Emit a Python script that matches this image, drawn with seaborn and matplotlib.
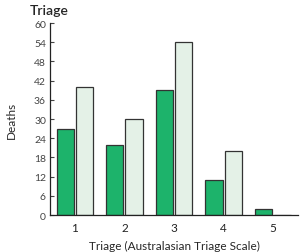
import pandas as pd
import numpy as np
import seaborn as sns
import matplotlib.pyplot as plt
from matplotlib.ticker import FixedLocator

# Data
triage = ['1', '2', '3', '4', '5']
deaths_a = [27, 22, 39, 11, 2]
deaths_b = [40, 30, 54, 20, 0]

df = pd.DataFrame({
    'triage': triage * 2,
    'deaths': deaths_a + deaths_b,
    'group': ['A'] * len(triage) + ['B'] * len(triage),
})

sns.set_style('white')
plt.rcParams['font.family'] = ['Lato', 'DejaVu Sans']

fig = plt.figure(figsize=(3.0, 2.53), dpi=100)
ax = fig.add_axes([0.167, 0.146, 0.826, 0.759])

sns.barplot(data=df, x='triage', y='deaths', hue='group',
            palette=['#1db36b', '#e4f1e7'], saturation=1,
            edgecolor='#333333', linewidth=0.9,
            width=0.78, gap=0.1, legend=False, ax=ax)

ax.set_xlim(-0.5, 4.5)
ax.set_ylim(0, 60)
ax.set_yticks(np.arange(0, 61, 6))
ax.xaxis.set_minor_locator(FixedLocator([0.5, 1.5, 2.5, 3.5, 4.5]))
ax.tick_params(axis='x', which='major', length=0, labelsize=8.5, pad=5, colors='#222222')
ax.tick_params(axis='x', which='minor', direction='in', length=5, width=0.8, color='#333333')
ax.tick_params(axis='y', direction='in', length=3, width=0.8, labelsize=7.5, pad=3,
               colors='#444444', left=True)

sns.despine(ax=ax)
for s in ['left', 'bottom']:
    ax.spines[s].set_color('#222222')
    ax.spines[s].set_linewidth(0.9)

ax.set_xlabel('Triage (Australasian Triage Scale)', fontsize=8.5, labelpad=5)
ax.set_ylabel('Deaths', fontsize=8.5, labelpad=12)
fig.text(0.1, 0.955, 'Triage', fontsize=10, fontweight='semibold', va='center')

fig.savefig('out.png', dpi=100)
